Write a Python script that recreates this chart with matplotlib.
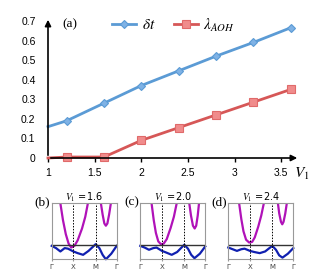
import numpy as np
import matplotlib
matplotlib.use("Agg")
import matplotlib.pyplot as plt

plt.rcParams["mathtext.fontset"] = "stix"

# main panel (a)
V1 = [1.0, 1.2, 1.6, 2.0, 2.4, 2.8, 3.2, 3.6]
delta_t = [0.16, 0.19, 0.28, 0.37, 0.445, 0.52, 0.59, 0.665]
lam_aoh = [0.0, 0.005, 0.005, 0.09, 0.155, 0.22, 0.285, 0.35]
x_ticks = [1, 1.5, 2, 2.5, 3, 3.5]
x_tick_labels = ["1", "1.5", "2", "2.5", "3", "3.5"]
y_ticks = [0, 0.1, 0.2, 0.3, 0.4, 0.5, 0.6, 0.7]
y_tick_labels = ["0", "0.1", "0.2", "0.3", "0.4", "0.5", "0.6", "0.7"]

# band insets (b)-(d): k along Gamma-X-M-Gamma, energy in box units
k_ticks = [0, 1.0, 2.03, 3.0]
k_labels = ["\u0393", "X", "M", "\u0393"]
fermi = 0.25
inset_titles = ["$V_1$ =1.6", "$V_1$ =2.0", "$V_1$ =2.4"]
inset_letters = ["(b)", "(c)", "(d)"]

cond1_k = [
    [0.40, 0.52, 0.65, 0.78, 0.90, 1.05, 1.20, 1.40, 1.55, 1.67],
    [0.52, 0.62, 0.72, 0.83, 0.95, 1.08, 1.22, 1.40, 1.55, 1.68],
    [0.50, 0.60, 0.70, 0.82, 0.96, 1.10, 1.22, 1.38, 1.52, 1.64],
]
cond1_e = [
    [1.0, 0.70, 0.45, 0.28, 0.21, 0.24, 0.34, 0.55, 0.76, 1.0],
    [1.0, 0.70, 0.47, 0.32, 0.27, 0.28, 0.36, 0.56, 0.76, 1.0],
    [1.0, 0.72, 0.50, 0.35, 0.30, 0.31, 0.39, 0.58, 0.78, 1.0],
]
cond2_k = [
    [2.27, 2.35, 2.43, 2.50, 2.57, 2.65, 2.73],
    [2.26, 2.34, 2.43, 2.51, 2.58, 2.65, 2.71],
    [2.29, 2.35, 2.43, 2.49, 2.55, 2.63, 2.70],
]
cond2_e = [
    [1.0, 0.80, 0.64, 0.60, 0.64, 0.80, 1.0],
    [1.0, 0.78, 0.60, 0.55, 0.60, 0.78, 1.0],
    [1.0, 0.82, 0.67, 0.625, 0.67, 0.82, 1.0],
]
val_k = [0, 0.2, 0.4, 0.6, 0.75, 1.0, 1.2, 1.45, 1.7, 2.03, 2.2, 2.35, 2.5, 2.75, 3.0]
val_e = [
    [0.24, 0.20, 0.14, 0.20, 0.19, 0.14, 0.11, 0.08, 0.15, 0.27, 0.20, 0.08, 0.0, 0.10, 0.24],
    [0.24, 0.21, 0.17, 0.20, 0.21, 0.15, 0.12, 0.08, 0.13, 0.26, 0.19, 0.08, 0.02, 0.10, 0.23],
    [0.21, 0.18, 0.15, 0.18, 0.19, 0.15, 0.13, 0.11, 0.14, 0.24, 0.17, 0.07, 0.03, 0.10, 0.20],
]

fig = plt.figure(figsize=(3.3, 2.75), dpi=100)

ax = fig.add_axes([48 / 330, 1 - 158 / 275, 252 / 330, 141 / 275])
ax.plot(V1, delta_t, color="#5b9bd5", lw=2, marker="D", ms=4.5, markevery=list(range(1, len(V1))),
        mfc="#7fb2e5", mec="#5b9bd5", mew=0.8, label="$\\delta t$", clip_on=False, zorder=3)
ax.plot(V1, lam_aoh, color="#d65757", lw=2, marker="s", ms=5.5, markevery=list(range(1, len(V1))),
        mfc="#f08c8c", mec="#e06a6a", mew=0.8, label="$\\lambda_{AOH}$", clip_on=False, zorder=3)
ax.set_xlim(1, 3.7)
ax.set_ylim(0, 0.72)
for s in ax.spines.values():
    s.set_visible(False)
ax.annotate("", xy=(1, 0), xytext=(0, 0), xycoords="axes fraction",
            arrowprops=dict(arrowstyle="-|>", color="black", lw=1.2, mutation_scale=9), zorder=4)
ax.annotate("", xy=(0, 1), xytext=(0, 0), xycoords="axes fraction",
            arrowprops=dict(arrowstyle="-|>", color="black", lw=1.2, mutation_scale=9), zorder=4)
ax.set_xticks(x_ticks)
ax.set_xticklabels(x_tick_labels, family="Liberation Sans", fontsize=7.5)
ax.set_yticks(y_ticks)
ax.set_yticklabels(y_tick_labels, family="Liberation Sans", fontsize=7.5)
ax.tick_params(axis="x", length=3, width=1, pad=4, direction="out")
ax.tick_params(axis="y", length=0, pad=9)
fig.text(302 / 330, 1 - 174 / 275, "$V_1$", fontsize=11, ha="center", va="center")
fig.text(62 / 330, 1 - 24 / 275, "(a)", family="Liberation Serif", fontsize=9.5, va="center")
ax.legend(loc="center left", bbox_to_anchor=(112 / 330, 1 - 25 / 275), bbox_transform=fig.transFigure,
          ncol=2, frameon=False, fontsize=11, handlelength=1.6, handletextpad=0.35,
          columnspacing=1.2, borderpad=0, borderaxespad=0)

lefts = [51.7, 140.3, 228.3]
for i in range(3):
    ia = fig.add_axes([lefts[i] / 330, 1 - 259.3 / 275, 65 / 330, 56 / 275])
    ia.plot(cond1_k[i], cond1_e[i], color="#b012b8", lw=1.6, clip_on=True)
    ia.plot(cond2_k[i], cond2_e[i], color="#b012b8", lw=1.6, clip_on=True)
    ia.plot(val_k, val_e[i], color="#1020b0", lw=1.6, clip_on=False)
    ia.axhline(fermi, color="#333333", lw=1)
    for kk in k_ticks[1:3]:
        ia.axvline(kk, color="black", lw=0.7, ls=(0, (1.5, 1.5)))
    ia.set_xlim(0, 3)
    ia.set_ylim(0, 1)
    ia.set_xticks(k_ticks)
    ia.set_xticklabels(k_labels, fontsize=5, color="#444444")
    ia.set_yticks([])
    ia.tick_params(axis="x", length=1.5, pad=2, color="#999999")
    for s in ia.spines.values():
        s.set_color("#999999")
        s.set_linewidth(0.8)
    ia.text(0.5, 0.98, inset_titles[i], transform=ia.transAxes, ha="center", va="bottom", fontsize=7)
    fig.text((lefts[i] - 1.5) / 330, 1 - 202 / 275, inset_letters[i], family="Liberation Serif",
             fontsize=9.5, ha="right", va="center")

fig.savefig("out.png", dpi=100)
